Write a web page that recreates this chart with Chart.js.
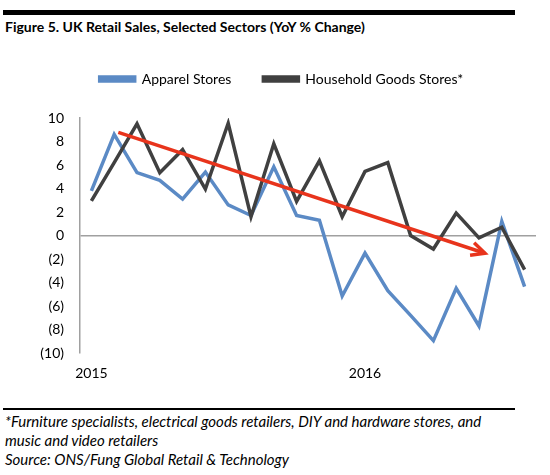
<!DOCTYPE html>
<html>
<head>
<meta charset="utf-8">
<script src="https://cdn.jsdelivr.net/npm/chart.js@4/dist/chart.umd.min.js"></script>
<style>
  html, body { margin: 0; padding: 0; background: #fff; }
  body { width: 550px; height: 475px; position: relative; overflow: hidden; font-family: Lato, "Open Sans", sans-serif; }
  .rule-top { position: absolute; left: 3px; top: 10px; width: 512px; height: 5px; background: #000; }
  .rule-bot { position: absolute; left: 3px; top: 408px; width: 512px; height: 2px; background: #000; }
  .title { position: absolute; left: 5px; top: 18px; font-weight: bold; font-size: 14px; line-height: 18px; color: #000; white-space: nowrap; }
  .foot { position: absolute; left: 5px; top: 412px; font-style: italic; font-size: 15px; line-height: 19px; color: #000; white-space: nowrap; }
  #wrap { position: absolute; left: 0; top: 40px; width: 550px; height: 350px; }
</style>
</head>
<body>
<div class="rule-top"></div>
<div class="title">Figure 5. UK Retail Sales, Selected Sectors (YoY % Change)</div>
<div id="wrap"><canvas id="c" width="550" height="350"></canvas></div>
<div class="rule-bot"></div>
<div class="foot">*Furniture specialists, electrical goods retailers, DIY and hardware stores, and<br>music and video retailers<br>Source: ONS/Fung Global Retail &amp; Technology</div>
<script>
// ---- data ----
const seriesNames = ['Apparel Stores', 'Household Goods Stores*'];
const apparel = [3.8, 8.6, 5.35, 4.7, 3.1, 5.4, 2.6, 1.7, 5.85, 1.7, 1.3, -5.15, -1.5, -4.7, -6.8, -8.95, -4.5, -7.7, 1.2, -4.35];
const household = [2.95, 6.2, 9.5, 5.35, 7.3, 3.95, 9.55, 1.6, 7.8, 2.9, 6.35, 1.6, 5.45, 6.2, 0.0, -1.15, 1.9, -0.2, 0.7, -2.9];
const tickPositions = [0, 12];
const tickLabels = ['2015', '2016'];
const arrowX = [1.18, 17.26];
const arrowY = [8.78, -1.51];

const toPoints = arr => arr.map((v, i) => ({ x: i, y: v }));

const arrowHead = {
  id: 'arrowHead',
  afterDatasetsDraw(chart) {
    const meta = chart.getDatasetMeta(0);
    if (!meta || meta.data.length < 2) return;
    const a = meta.data[meta.data.length - 2], b = meta.data[meta.data.length - 1];
    const ang = Math.atan2(b.y - a.y, b.x - a.x);
    const len = 15, spread = 0.45;
    const ctx = chart.ctx;
    ctx.save();
    ctx.strokeStyle = '#E8341C';
    ctx.lineWidth = 3.5;
    ctx.lineCap = 'butt';
    ctx.lineJoin = 'miter';
    ctx.beginPath();
    ctx.moveTo(b.x - len * Math.cos(ang - spread), b.y - len * Math.sin(ang - spread));
    ctx.lineTo(b.x, b.y);
    ctx.lineTo(b.x - len * Math.cos(ang + spread), b.y - len * Math.sin(ang + spread));
    ctx.stroke();
    ctx.restore();
  }
};

const legendGap = {
  id: 'legendGap',
  beforeInit(chart) {
    const orig = chart.legend.fit;
    chart.legend.fit = function () { orig.bind(chart.legend)(); this.height += 22; };
  }
};

new Chart(document.getElementById('c'), {
  type: 'line',
  data: {
    datasets: [
      { label: 'trend', data: arrowX.map((x, i) => ({ x, y: arrowY[i] })), borderColor: '#E8341C', borderWidth: 3.5, pointRadius: 0, order: 0 },
      { label: seriesNames[1], data: toPoints(household), borderColor: '#404040', backgroundColor: '#404040', borderWidth: 3.5, pointRadius: 0, order: 1, borderJoinStyle: 'miter' },
      { label: seriesNames[0], data: toPoints(apparel), borderColor: '#5B8AC5', backgroundColor: '#5B8AC5', borderWidth: 3.5, pointRadius: 0, order: 2, borderJoinStyle: 'miter' }
    ]
  },
  options: {
    responsive: false,
    animation: false,
    layout: { padding: { top: 0, left: 27, right: 14, bottom: 0 } },
    plugins: {
      tooltip: { enabled: false },
      legend: {
        position: 'top',
        reverse: true,
        labels: {
          filter: item => item.text !== 'trend',
          boxWidth: 35, boxHeight: 4, padding: 32,
          color: '#000',
          font: { family: 'Lato', size: 14 }
        }
      }
    },
    scales: {
      x: {
        type: 'linear',
        min: -0.5, max: 19.5,
        afterBuildTicks: s => { s.ticks = tickPositions.map(v => ({ value: v })); },
        afterFit: s => { s.height = 37; },
        ticks: {
          callback: v => { const k = tickPositions.indexOf(v); return k >= 0 ? tickLabels[k] : ''; },
          color: '#000', font: { family: 'Lato', size: 14 }, padding: 12, maxRotation: 0, autoSkip: false
        },
        grid: { display: false, drawTicks: false },
        border: { display: false }
      },
      y: {
        min: -10, max: 10,
        afterFit: s => { s.width = 53; },
        ticks: {
          stepSize: 2,
          callback: v => v < 0 ? '(' + (-v) + ')' : String(v),
          color: '#000', font: { family: 'Lato', size: 14 }, padding: 16
        },
        grid: {
          drawTicks: false,
          color: c => c.tick && c.tick.value === 0 ? '#A0A0A0' : 'rgba(0,0,0,0)',
          lineWidth: 1.5
        },
        border: { display: true, color: '#A0A0A0', width: 1.5 }
      }
    }
  },
  plugins: [arrowHead, legendGap]
});
</script>
</body>
</html>
